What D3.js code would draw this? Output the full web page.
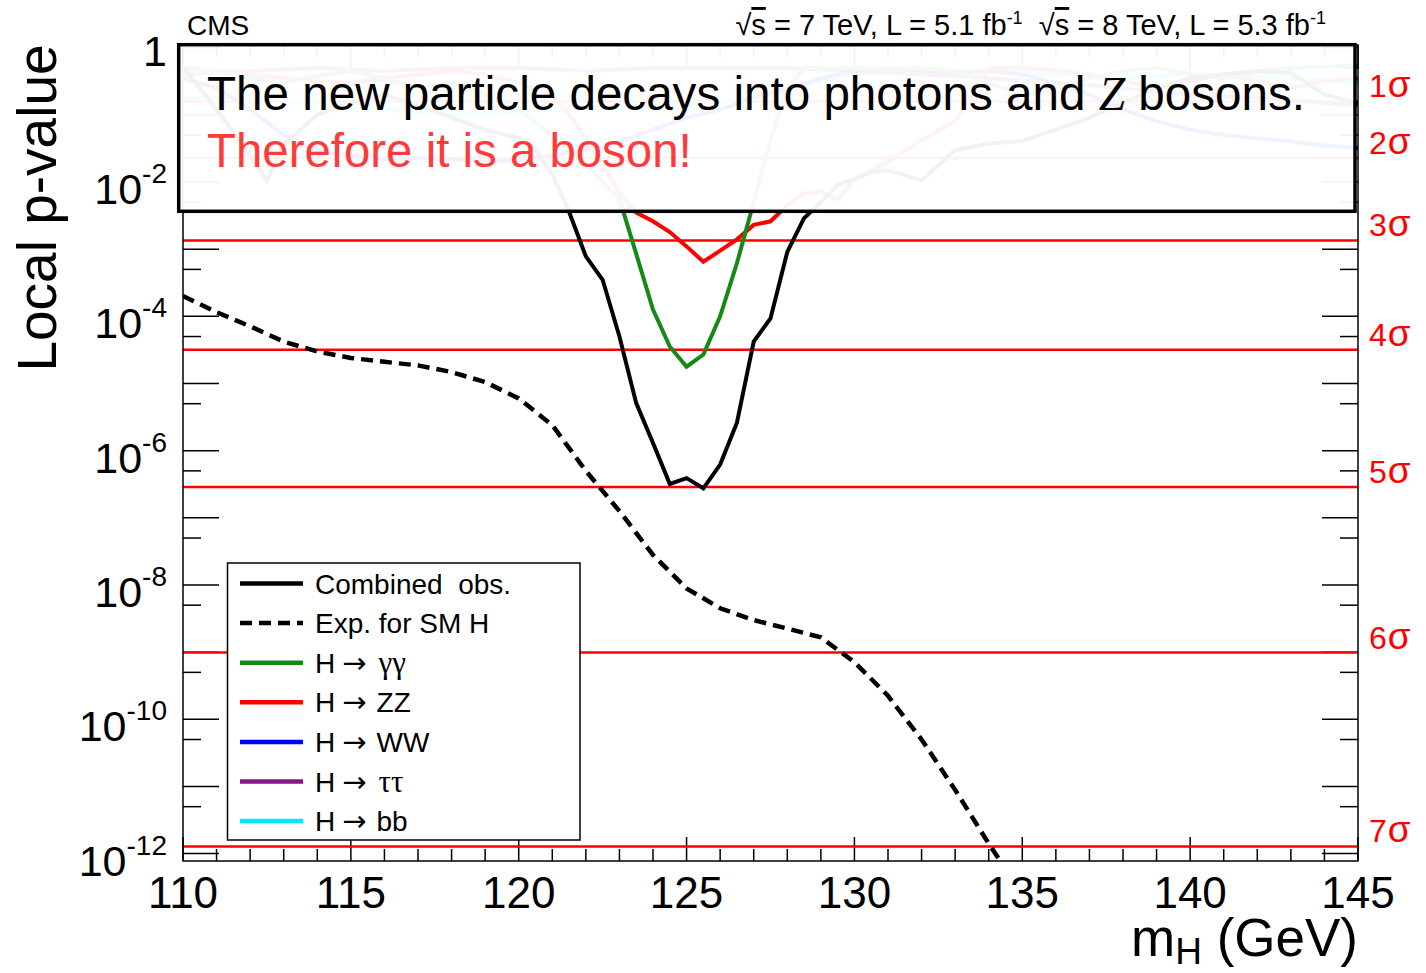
<!DOCTYPE html>
<html>
<head>
<meta charset="utf-8">
<script src="https://cdn.jsdelivr.net/npm/d3@7"></script>
<style>
  html, body { margin: 0; padding: 0; background: #fff; }
  svg { display: block; font-family: "Liberation Sans", Arial, Helvetica, sans-serif; }
</style>
</head>
<body>
<svg id="chart" width="1426" height="973"></svg>
<script>
// ---- Local p-value scans vs. Higgs mass hypothesis ----

// Combined observed
const massObs = [110,110.5,111,111.5,112,112.5,113,113.5,114,115,116,117,118,119,120,120.5,121,121.5,122,122.5,123,123.5,124,124.5,125,125.5,126,126.5,127,127.5,128,128.5,129,129.5,130,130.5,131,132,133,134,135,136,137,138,139,140,141,142,143,144,145];
const pObs = [0.51,0.25,0.12,0.055,0.025,0.0105,0.037,0.06,0.1,0.15,0.2,0.14,0.09,0.06,0.045,0.03,0.013,3.6e-3,7.8e-4,3.5e-4,5.0e-5,5.1e-6,1.3e-6,3.2e-7,3.9e-7,2.75e-7,6.2e-7,2.6e-6,4.2e-5,9.3e-5,9.1e-4,2.9e-3,5.0e-3,9.0e-3,0.011,0.014,0.015,0.0105,0.03,0.037,0.041,0.06,0.09,0.15,0.25,0.35,0.4,0.45,0.42,0.2,0.15];

// Expected for a SM Higgs
const massExp = [110,111,112,113,114,115,116,117,118,119,120,121,122,123,124,125,126,127,128,129,130,131,132,133,134,135,136];
const pExp = [2.0e-4,1.15e-4,7.1e-5,4.2e-5,3.0e-5,2.4e-5,2.1e-5,1.86e-5,1.48e-5,1.05e-5,6.0e-6,2.4e-6,5.0e-7,1.26e-7,2.8e-8,8.9e-9,4.5e-9,3.0e-9,2.24e-9,1.66e-9,7.1e-10,2.24e-10,5.0e-11,8.9e-12,1.41e-12,2.5e-13,4.0e-14];

// H -> gamma gamma
const massGG = [110,111,112,113,114,115,116,117,118,119,120,121,121.5,122,122.5,123,123.5,124,124.5,125,125.5,126,126.5,127,127.5,128,128.5,129,130,131,132,133,134,135,136,137,138,139,140,141,142,143,144,145];
const pGG = [0.5,0.45,0.35,0.3,0.38,0.45,0.35,0.25,0.3,0.2,0.12,0.05,0.03,0.018,0.01,5.6e-3,8.5e-4,1.26e-4,3.55e-5,1.78e-5,2.7e-5,1.0e-4,6.2e-4,5.0e-3,0.042,0.25,0.5,0.5,0.5,0.48,0.5,0.45,0.3,0.2,0.25,0.35,0.45,0.5,0.4,0.35,0.45,0.5,0.52,0.55];

// H -> ZZ
const massZZ = [110,111,112,113,114,115,116,117,118,119,120,121,121.5,122,122.5,123,123.5,124,124.5,125,125.5,126,126.5,127,127.5,128,128.5,129,129.5,130,131,132,133,134,135,136,137,138,139,140,141,142,143,144,145];
const pZZ = [0.5,0.45,0.4,0.35,0.32,0.3,0.35,0.4,0.45,0.4,0.3,0.2,0.1,0.045,0.018,6.8e-3,3.5e-3,2.6e-3,1.8e-3,1.1e-3,6.5e-4,9.5e-4,1.4e-3,2.3e-3,2.6e-3,4.5e-3,6.8e-3,7.2e-3,5.4e-3,0.011,0.02,0.042,0.08,0.5,0.5,0.46,0.4,0.32,0.25,0.32,0.4,0.32,0.25,0.32,0.35];

// H -> WW
const massWW = [110,111,112,113,114,115,116,117,118,119,120,121,122,123,124,125,126,127,128,129,130,131,132,133,134,135,136,137,138,139,140,141,142,143,144,145];
const pWW = [0.35,0.25,0.12,0.05,0.03,0.025,0.022,0.023,0.022,0.02,0.021,0.025,0.03,0.04,0.06,0.09,0.12,0.18,0.25,0.35,0.45,0.5,0.45,0.42,0.45,0.4,0.3,0.2,0.12,0.08,0.06,0.05,0.045,0.04,0.035,0.032];

// H -> tau tau
const massTT = [110,112,114,116,118,120,122,124,126,128,130,132,134,136,138,140,142,144,145];
const pTT = [0.4,0.45,0.5,0.45,0.5,0.5,0.45,0.5,0.5,0.5,0.45,0.4,0.35,0.3,0.25,0.2,0.18,0.15,0.14];

// H -> bb
const massBB = [110,112,114,116,118,120,122,124,126,128,130,132,134,136,138,140,142,144,145];
const pBB = [0.18,0.17,0.15,0.12,0.1,0.11,0.13,0.12,0.15,0.25,0.4,0.45,0.45,0.4,0.35,0.4,0.38,0.33,0.3];

// Significance reference levels (one-sided)
const sigmaP = [0.1587, 0.02275, 1.35e-3, 3.17e-5, 2.87e-7, 9.87e-10, 1.28e-12];
const sigmaLabels = ["1","2","3","4","5","6","7"];

// Axis ticks
const xTickLabels = [110,115,120,125,130,135,140,145];
const yDecades = [1,1e-1,1e-2,1e-3,1e-4,1e-5,1e-6,1e-7,1e-8,1e-9,1e-10,1e-11,1e-12];
const yHalfTicks = [0.5,5e-2,5e-3,5e-4,5e-5,5e-6,5e-7,5e-8,5e-9,5e-10,5e-11,5e-12];
const yLabelExps = [0,-2,-4,-6,-8,-10,-12];

// Legend entries
const legendEntries = [
  {name:"Combined  obs.", color:"#000", dash:null},
  {name:"Exp. for SM H", color:"#000", dash:"12,7"},
  {name:"H", sym:"γγ", color:"#148a14"},
  {name:"H", sym:"ZZ", color:"#ff0000", plain:true},
  {name:"H", sym:"WW", color:"#0000ff", plain:true},
  {name:"H", sym:"ττ", color:"#801a80"},
  {name:"H", sym:"bb", color:"#00e8ff", plain:true}
];

const SERIF = "'Liberation Serif', 'Times New Roman', serif";

// ---- geometry ----
const frame = {left:183, right:1358, top:45, bottom:861};
const svg = d3.select("#chart");

const x = d3.scaleLinear().domain([110,145]).range([frame.left, frame.right]);
const y = d3.scaleLog().domain([Math.pow(10,-12.11), Math.pow(10,0.04)]).range([frame.bottom, frame.top]);

svg.append("defs").append("clipPath").attr("id","plotClip")
  .append("rect").attr("x",frame.left).attr("y",frame.top)
  .attr("width",frame.right-frame.left).attr("height",frame.bottom-frame.top);

// ---- ticks ----
const tickG = svg.append("g").attr("stroke","#000").attr("stroke-width",1.5);
const xMinor = d3.range(110,145.001,1);
xMinor.forEach(m => {
  const len = (m % 5 === 0) ? 24 : 12;
  tickG.append("line").attr("x1",x(m)).attr("x2",x(m)).attr("y1",frame.bottom).attr("y2",frame.bottom-len);
  tickG.append("line").attr("x1",x(m)).attr("x2",x(m)).attr("y1",frame.top).attr("y2",frame.top+len);
});
yDecades.forEach(v => {
  tickG.append("line").attr("x1",frame.left).attr("x2",frame.left+36).attr("y1",y(v)).attr("y2",y(v));
  tickG.append("line").attr("x1",frame.right).attr("x2",frame.right-36).attr("y1",y(v)).attr("y2",y(v));
});
yHalfTicks.forEach(v => {
  tickG.append("line").attr("x1",frame.left).attr("x2",frame.left+18).attr("y1",y(v)).attr("y2",y(v));
  tickG.append("line").attr("x1",frame.right).attr("x2",frame.right-18).attr("y1",y(v)).attr("y2",y(v));
});

// ---- sigma lines ----
const sigG = svg.append("g");
sigmaP.forEach((p,i) => {
  sigG.append("line").attr("x1",frame.left).attr("x2",frame.right)
    .attr("y1",y(p)).attr("y2",y(p)).attr("stroke","#ff0000").attr("stroke-width",2.5);
  const t = sigG.append("text").attr("x",1369).attr("y",y(p)-4)
    .attr("font-size",32).attr("fill","#ff0000");
  t.append("tspan").text(sigmaLabels[i]);
  t.append("tspan").attr("font-size",37).attr("dx",1).text("σ");
});

// ---- curves ----
const line = d3.line().x(d => x(d[0])).y(d => y(d[1]));
const curveG = svg.append("g").attr("clip-path","url(#plotClip)").attr("fill","none")
  .attr("stroke-linejoin","miter");
function drawSeries(ms, ps, color, width, dash) {
  const pts = ms.map((m,i) => [m, ps[i]]);
  const path = curveG.append("path").datum(pts).attr("d",line)
    .attr("stroke",color).attr("stroke-width",width);
  if (dash) path.attr("stroke-dasharray",dash);
}
drawSeries(massBB, pBB, "#00e8ff", 4);
drawSeries(massTT, pTT, "#801a80", 4);
drawSeries(massWW, pWW, "#0000ff", 4);
drawSeries(massZZ, pZZ, "#ff0000", 4);
drawSeries(massGG, pGG, "#148a14", 4);
drawSeries(massExp, pExp, "#000", 4.5, "12,7");
drawSeries(massObs, pObs, "#000", 4);

// ---- frame ----
svg.append("rect").attr("x",frame.left).attr("y",frame.top)
  .attr("width",frame.right-frame.left).attr("height",frame.bottom-frame.top)
  .attr("fill","none").attr("stroke","#000").attr("stroke-width",1.5);

// ---- axis labels ----
const xl = svg.append("g").attr("font-size",44).attr("text-anchor","middle");
xTickLabels.forEach(v => xl.append("text").attr("x",x(v)).attr("y",908).text(v));

const yl = svg.append("g").attr("text-anchor","end");
yLabelExps.forEach(e => {
  const t = yl.append("text").attr("x",167).attr("y",y(Math.pow(10,e))+22).attr("font-size",43);
  if (e === 0) { t.attr("y", y(1)+18).text("1"); return; }
  t.append("tspan").text("10");
  t.append("tspan").attr("dy",-21).attr("font-size",28).text(String(e));
});

svg.append("text").attr("transform","translate(56,208) rotate(-90)")
  .attr("text-anchor","middle").attr("font-size",55).text("Local p-value");

const xt = svg.append("text").attr("x",frame.right).attr("y",956)
  .attr("text-anchor","end").attr("font-size",53);
xt.append("tspan").text("m");
xt.append("tspan").attr("dy",8).attr("font-size",37).text("H");
xt.append("tspan").attr("dy",-8).text(" (GeV)");

// ---- header ----
svg.append("text").attr("x",187).attr("y",35).attr("font-size",28).text("CMS");
const hdr = svg.append("text").attr("x",1326).attr("y",35).attr("text-anchor","end")
  .attr("font-size",29).attr("xml:space","preserve");
function lumi(energy, lumiVal) {
  hdr.append("tspan").text("√");
  hdr.append("tspan").attr("text-decoration","overline").text("s");
  hdr.append("tspan").text(` = ${energy} TeV, L = ${lumiVal} fb`);
  hdr.append("tspan").attr("dy",-11).attr("font-size",18).text("-1");
}
lumi(7, "5.1");
hdr.append("tspan").attr("dy",11).text("  ");
lumi(8, "5.3");

// ---- legend ----
const lg = svg.append("g");
lg.append("rect").attr("x",227.5).attr("y",563).attr("width",352.5).attr("height",277)
  .attr("fill","#fff").attr("stroke","#000").attr("stroke-width",1.5);
legendEntries.forEach((d,i) => {
  const cy = 583.5 + i*39.6;
  const l = lg.append("line").attr("x1",240).attr("x2",303).attr("y1",cy).attr("y2",cy)
    .attr("stroke",d.color).attr("stroke-width",4.5);
  if (d.dash) l.attr("stroke-dasharray",d.dash);
  const t = lg.append("text").attr("x",315).attr("y",cy+10).attr("font-size",28)
    .attr("xml:space","preserve");
  if (!d.sym) { t.text(d.name); return; }
  t.append("tspan").text(d.name);
  t.append("tspan").attr("dx",7).attr("font-family","'DejaVu Sans', sans-serif")
    .attr("font-size",29).text("→");
  t.append("tspan").attr("dx",d.plain ? 10 : 12)
    .attr("font-family", d.plain ? null : SERIF)
    .attr("font-size", d.plain ? 28 : 31).text(d.sym);
});

// ---- message box ----
const box = svg.append("g");
box.append("rect").attr("x",178.7).attr("y",44.7).attr("width",1176.3).attr("height",166.6)
  .attr("fill","#fff").attr("fill-opacity",0.95).attr("stroke","#000").attr("stroke-width",3.5);
const l1 = box.append("text").attr("x",207).attr("y",110).attr("font-size",47.6).attr("xml:space","preserve");
l1.append("tspan").text("The new particle decays into photons and ");
l1.append("tspan").attr("font-family",SERIF).attr("font-style","italic").text("Z");
l1.append("tspan").text(" bosons.");
box.append("text").attr("x",207).attr("y",167).attr("font-size",47.4).attr("fill","#ff3a3a")
  .text("Therefore it is a boson!");
</script>
</body>
</html>
